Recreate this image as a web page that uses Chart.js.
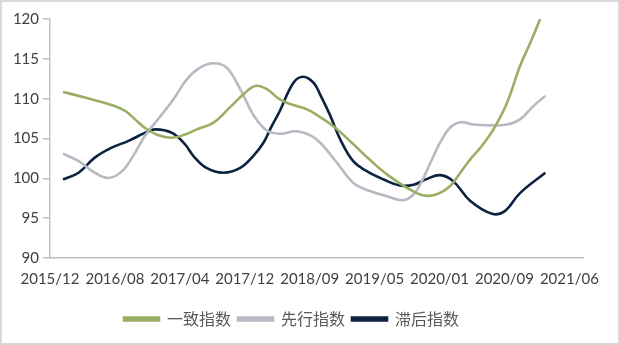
<!DOCTYPE html>
<html>
<head>
<meta charset="utf-8">
<script src="https://cdn.jsdelivr.net/npm/chart.js@4/dist/chart.umd.min.js"></script>
<style>
  html, body { margin: 0; padding: 0; background: #ffffff; }
  #wrap { position: relative; width: 620px; height: 345px; }
  #frame { position: absolute; left: 0; top: 0; width: 620px; height: 345px; box-sizing: border-box; border: 2px solid #d9d9d9; pointer-events: none; }
</style>
</head>
<body>
<div id="wrap">
  <canvas id="c" width="620" height="345"></canvas>
  <div id="frame"></div>
</div>
<script>
// Tick labels of the x axis (one per tick position 0..8)
const xLabels = ['2015/12','2016/08','2017/04','2017/12','2018/09','2019/05','2020/01','2020/09','2021/06'];
const seriesNames = ['一致指数','先行指数','滞后指数'];

// 一致指数 (coincident index)
const coincidentX = [0.20,0.44,0.69,0.95,1.16,1.31,1.46,1.67,1.88,2.08,2.26,2.52,2.77,2.98,3.16,3.34,3.54,3.75,3.96,4.16,4.37,4.67,4.93,5.19,5.50,5.75,5.96,6.16,6.32,6.47,6.63,6.83,7.04,7.24,7.40,7.55];
const coincidentY = [110.85,110.35,109.8,109.2,108.45,107.4,106.35,105.4,105.1,105.5,106.15,107.0,108.9,110.55,111.6,111.2,109.9,109.2,108.65,107.7,106.5,104.3,102.3,100.5,98.8,97.85,98.0,99.0,100.7,102.35,103.85,106.15,109.5,114.1,117.05,120.0];

// 先行指数 (leading index)
const leadingX = [0.20,0.44,0.69,0.90,1.11,1.31,1.46,1.70,1.90,2.11,2.31,2.52,2.72,2.93,3.13,3.34,3.54,3.80,4.01,4.16,4.42,4.67,4.93,5.19,5.42,5.57,5.70,5.86,6.01,6.16,6.32,6.52,6.78,7.04,7.24,7.45,7.63];
const leadingY = [103.1,102.15,100.7,100.05,100.9,103.2,105.3,107.8,109.9,112.45,113.9,114.45,113.9,111.2,108.0,106.0,105.6,105.9,105.4,104.5,101.95,99.45,98.4,97.75,97.25,97.75,99.2,101.95,104.5,106.35,107.05,106.75,106.65,106.75,107.4,109.1,110.35];

// 滞后指数 (lagging index)
const laggingX = [0.20,0.44,0.69,0.95,1.21,1.46,1.62,1.88,2.08,2.21,2.41,2.67,2.93,3.13,3.29,3.39,3.54,3.75,3.90,4.06,4.16,4.31,4.47,4.67,4.88,5.14,5.39,5.60,5.80,6.01,6.21,6.47,6.81,7.00,7.24,7.63];
const laggingY = [99.85,100.7,102.6,103.85,104.7,105.7,106.15,105.7,104.25,102.8,101.3,100.7,101.3,102.8,104.5,106.15,108.45,112.0,112.75,112.0,110.55,108.0,104.9,102.15,100.9,99.85,99.1,99.2,99.9,100.4,99.65,97.2,95.55,95.85,98.15,100.7];

const yTicks = [90, 95, 100, 105, 110, 115, 120];

function pts(xs, ys) { return xs.map((x, i) => ({ x: x, y: ys[i] })); }

const colors = ['#9aae64', '#b7bac2', '#0c2240'];
const seriesData = [pts(coincidentX, coincidentY), pts(leadingX, leadingY), pts(laggingX, laggingY)];

new Chart(document.getElementById('c'), {
  type: 'line',
  data: {
    datasets: seriesNames.map((name, i) => ({
      label: name,
      data: seriesData[i],
      borderColor: colors[i],
      backgroundColor: colors[i],
      borderWidth: 2.6,
      pointRadius: 0,
      tension: 0.4,
      fill: false
    }))
  },
  options: {
    responsive: false,
    animation: false,
    devicePixelRatio: 1,
    layout: { padding: { left: 0, right: 37, top: 19, bottom: 8 } },
    plugins: {
      tooltip: { enabled: false },
      legend: {
        position: 'bottom',
        labels: {
          boxWidth: 35,
          boxHeight: 3,
          padding: 7,
          color: '#595959',
          font: { family: '"Noto Sans CJK SC", sans-serif', size: 16 }
        }
      }
    },
    scales: {
      x: {
        type: 'linear',
        min: 0,
        max: 8.21,
        afterBuildTicks: (s) => { s.ticks = xLabels.map((_, i) => ({ value: i })); },
        afterFit: (s) => { s.height = s.height + 4; },
        ticks: {
          includeBounds: false,
          autoSkip: false,
          maxRotation: 0,
          padding: 12,
          color: '#3f3f3f',
          font: { family: 'Lato, sans-serif', size: 15 },
          callback: (v) => xLabels[v] ?? ''
        },
        grid: { display: true, drawOnChartArea: false, drawTicks: false, color: '#c0c0c0' },
        border: { display: true, color: '#c0c0c0', width: 1.5 }
      },
      y: {
        min: 90,
        max: 120,
        afterBuildTicks: (s) => { s.ticks = yTicks.map(v => ({ value: v })); },
        afterFit: (s) => { s.width = 50; },
        ticks: {
          padding: 4,
          color: '#3f3f3f',
          font: { family: 'Lato, sans-serif', size: 15 }
        },
        grid: { drawOnChartArea: false, drawTicks: true, tickLength: 7, color: '#c0c0c0', lineWidth: 1.5 },
        border: { display: true, color: '#c0c0c0', width: 1.5 }
      }
    }
  }
});
</script>
</body>
</html>
